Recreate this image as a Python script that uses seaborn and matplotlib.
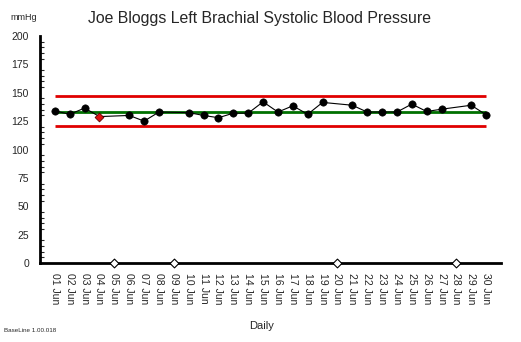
import numpy as np
import pandas as pd
import matplotlib
matplotlib.use("Agg")
import matplotlib.pyplot as plt
from matplotlib.ticker import MultipleLocator
import seaborn as sns

# Daily readings for June (NaN = no reading that day)
days = list(range(1, 31))
day_labels = [f"{d:02d} Jun" for d in days]
systolic = [134, 131, 136.5, 129, np.nan, 130, 125, 133, np.nan, 132.5,
            130, 128, 132, 132, 142, 133, 138.5, 131, 141.5, np.nan,
            139, 133, 133, 133, 140, 133.5, 135.5, np.nan, 139, 130.5]
flagged_day = 4          # reading shown in red
baseline = 133
upper_limit = 147
lower_limit = 120.5

sns.set_style("white")
plt.rcParams["font.family"] = ["Liberation Sans", "DejaVu Sans"]

df = pd.DataFrame({"day": days, "value": systolic, "label": day_labels})
present = df.dropna()
normal = present[present["day"] != flagged_day]
flagged = present[present["day"] == flagged_day]
missing = df[df["value"].isna()].assign(value=0)

fig = plt.figure(figsize=(5.21, 3.42), dpi=100)
ax = fig.add_axes([40 / 521, 1 - 263 / 342, (501 - 40) / 521, (263 - 36) / 342])

# control band and baseline
ax.hlines([upper_limit, lower_limit], days[0], days[-1], color="#e00000", lw=2, zorder=2)
ax.hlines(baseline, days[0], days[-1], color="#007000", lw=2, zorder=2)

sns.lineplot(data=present, x="day", y="value", color="black", lw=0.8, ax=ax, zorder=3)
sns.scatterplot(data=normal, x="day", y="value", color="black", marker="o", s=28,
                edgecolor="black", ax=ax, zorder=4)
sns.scatterplot(data=flagged, x="day", y="value", color="#e01010", marker="D", s=20,
                edgecolor="#600000", linewidth=0.6, ax=ax, zorder=4)
sns.scatterplot(data=missing, x="day", y="value", color="white", marker="D", s=20,
                edgecolor="black", linewidth=0.8, ax=ax, zorder=5, clip_on=False)

ax.set_xlim(0, 31)
ax.set_ylim(0, 200)
ax.set_xticks(days)
ax.set_xticklabels(day_labels, rotation=-90, fontsize=7.5)
ax.yaxis.set_major_locator(MultipleLocator(25))
ax.yaxis.set_minor_locator(MultipleLocator(5))
ax.tick_params(axis="y", which="major", direction="out", length=5, width=1.5, labelsize=7.5, pad=3)
ax.tick_params(axis="y", which="minor", direction="in", length=3, width=0.8, left=True)
ax.tick_params(axis="x", which="major", direction="out", length=5, width=1.5, pad=2)
ax.set_xlabel("")
ax.set_ylabel("")
for side in ("top", "right"):
    ax.spines[side].set_visible(False)
for side in ("left", "bottom"):
    ax.spines[side].set_linewidth(2)
    ax.spines[side].set_color("black")

fig.text(260 / 521, 1 - 18 / 342, "Joe Bloggs Left Brachial Systolic Blood Pressure",
         ha="center", va="center", fontsize=11.4)
fig.text(10 / 521, 1 - 18 / 342, "mmHg", ha="left", va="center", fontsize=6.5)
fig.text(262 / 521, 1 - 326 / 342, "Daily", ha="center", va="center", fontsize=8)
fig.text(4 / 521, 1 - 331 / 342, "BaseLine 1.00.018", ha="left", va="center", fontsize=4.5)

fig.savefig("out.png", dpi=100)
